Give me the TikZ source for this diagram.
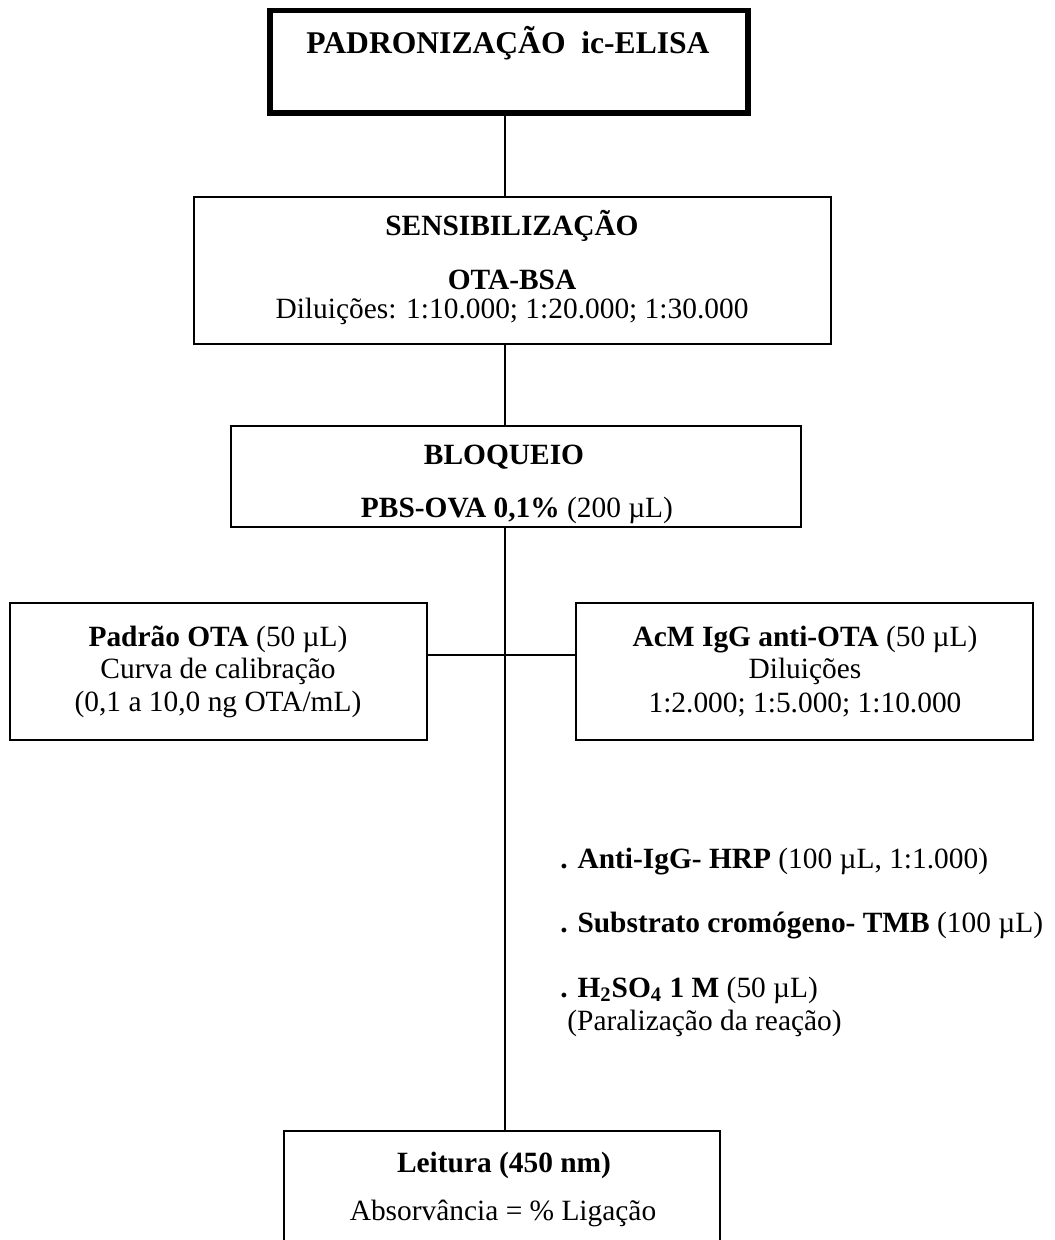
\documentclass[tikz,border=0pt]{standalone}
\usepackage{fontspec}
\setmainfont{Liberation Serif}
\newcommand{\bodysize}{\fontsize{14.7}{17}\selectfont}
\newcommand{\headsize}{\fontsize{15.8}{18}\selectfont}
\begin{document}
\begin{tikzpicture}[x=0.5pt,y=-0.5pt,
  box/.style={draw=black, line width=1pt, rectangle, inner sep=0pt, fill=white},
  heavybox/.style={box, line width=2.6pt},
  txt/.style={inner sep=0pt, anchor=base, font=\bodysize},
  item/.style={inner sep=0pt, anchor=base west, font=\bodysize},
  link/.style={draw=black, line width=1pt}]
\useasboundingbox (0,0) rectangle (1054,1240);
\clip (0,0) rectangle (1054,1240);

% spine of the flow and the junction of the two side boxes
\coordinate (spine) at (505,0);
\coordinate (hub) at (505,655);

% boxes
\node[heavybox, minimum width=239pt, minimum height=51.25pt] (start) at (509,61.75) {};
\node[box, minimum width=318.5pt, minimum height=73.5pt] (sens) at (512.5,270.5) {};
\node[box, minimum width=285pt, minimum height=50.5pt] (bloq) at (516,476.5) {};
\node[box, minimum width=208.5pt, minimum height=68.5pt] (padrao) at (218.5,671.5) {};
\node[box, minimum width=228.5pt, minimum height=68.5pt] (acm) at (804.5,671.5) {};
\node[box, minimum width=218pt, minimum height=69.5pt] (leitura) at (502,1200.5) {};

% connectors
\draw[link] (start.south -| spine) -- (sens.north -| spine);
\draw[link] (sens.south -| spine) -- (bloq.north -| spine);
\draw[link] (bloq.south -| spine) -- (leitura.north -| spine);
\draw[link] (padrao.east |- hub) -- (acm.west |- hub);

% box texts
\node[txt, font=\headsize\bfseries] (tstart) at (508,54) {PADRONIZAÇÃO\ \ ic-ELISA};

\node[txt, font=\bodysize\bfseries] (tsens1) at (512,236) {SENSIBILIZAÇÃO};
\node[txt, font=\bodysize\bfseries] (tsens2) at (512,290) {OTA-BSA};
\node[txt] (tsens3) at (512,319) {Diluições: 1:10.000; 1:20.000; 1:30.000};

\node[txt, font=\bodysize\bfseries] (tbloq1) at (504,464) {BLOQUEIO};
\node[txt] (tbloq2) at (517,517) {\textbf{PBS-OVA 0,1\%} (200 µL)};

\node[txt] (tpad1) at (218,646) {\textbf{Padrão OTA} (50 µL)};
\node[txt] (tpad2) at (218,678) {Curva de calibração};
\node[txt] (tpad3) at (218,711) {(0,1 a 10,0 ng OTA/mL)};

\node[txt] (tacm1) at (805,646) {\textbf{AcM IgG anti-OTA} (50 µL)};
\node[txt] (tacm2) at (805,678) {Diluições};
\node[txt] (tacm3) at (805,712) {1:2.000; 1:5.000; 1:10.000};

\node[txt, font=\bodysize\bfseries] (tlei1) at (504,1172) {Leitura (450 nm)};
\node[txt] (tlei2) at (503,1220) {Absorvância = \% Ligação};

% steps listed beside the spine
\node[item] (step1) at (560,868) {\textbf{. Anti-IgG- HRP} (100 µL, 1:1.000)};
\node[item] (step2) at (560,932) {\textbf{. Substrato cromógeno- TMB} (100 µL)};
\node[item] (step3) at (560,997) {\textbf{. H\textsubscript{2}SO\textsubscript{4} 1 M} (50 µL)};
\node[item] (step3b) at (567,1030) {(Paralização da reação)};
\end{tikzpicture}
\end{document}
